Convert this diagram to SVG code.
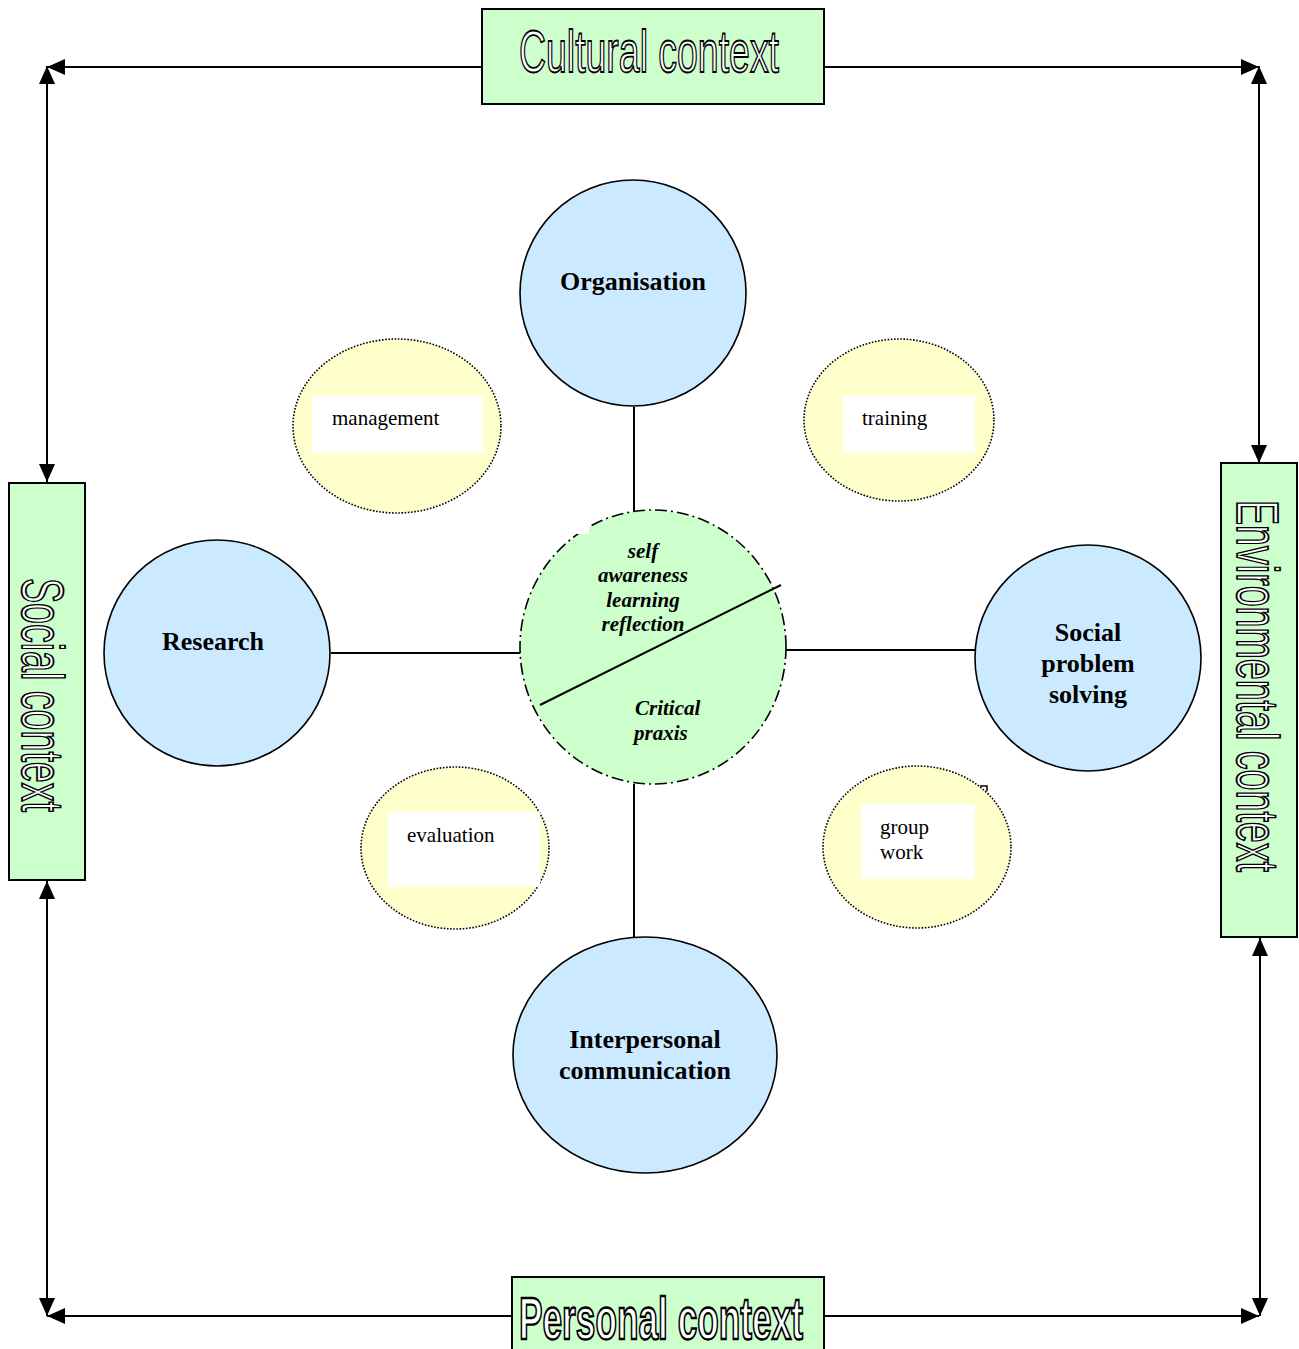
<svg xmlns="http://www.w3.org/2000/svg" width="1299" height="1349" viewBox="0 0 1299 1349">
<style>
.ctxbox{fill:#ccffcc;stroke:#000;stroke-width:2}
.ctxtxt{font-family:"Liberation Sans",Arial,sans-serif;font-size:60px;fill:#fff;stroke:#000;stroke-width:1.8}
.main{fill:#cceaff;stroke:#000;stroke-width:1.6}
.mtxt{font-family:"Liberation Serif","Times New Roman",serif;font-size:26px;font-weight:bold;fill:#000;text-anchor:middle}
.small{fill:#ffffcc;stroke:#000;stroke-width:1.6;stroke-dasharray:1.6 1.6}
.wbox{fill:#fff}
.stxt{font-family:"Liberation Serif","Times New Roman",serif;font-size:21px;fill:#000}
.ctr{fill:#ccffcc;stroke:#000;stroke-width:1.6;stroke-dasharray:12 4 2 4}
.ctxt{font-family:"Liberation Serif","Times New Roman",serif;font-size:21px;font-weight:bold;font-style:italic;fill:#000}
.ln{stroke:#000;stroke-width:2;fill:none}
.arr{stroke:#000;stroke-width:2;fill:none;marker-end:url(#ah)}
.arr2{stroke:#000;stroke-width:2;fill:none;marker-start:url(#ah);marker-end:url(#ah)}
</style>
<defs>
<marker id="ah" markerUnits="userSpaceOnUse" markerWidth="20" markerHeight="18" refX="18" refY="8" orient="auto-start-reverse">
<path d="M0,0 L18,8 L0,16 z" fill="#000"/>
</marker>
</defs>
<rect width="1299" height="1349" fill="#fff"/>

<g id="connectors">
<line class="arr" x1="482" y1="67" x2="47" y2="67"/>
<line class="arr" x1="824" y1="67" x2="1259" y2="67"/>
<line class="arr2" x1="47" y1="66" x2="47" y2="482"/>
<line class="arr2" x1="47" y1="881" x2="47" y2="1316"/>
<line class="arr2" x1="1259" y1="66" x2="1259" y2="463"/>
<line class="arr2" x1="1260" y1="938" x2="1260" y2="1316"/>
<line class="arr" x1="512" y1="1316" x2="47" y2="1316"/>
<line class="arr" x1="824" y1="1316" x2="1259" y2="1316"/>
<line class="ln" x1="634" y1="407" x2="634" y2="521"/>
<line class="ln" x1="331" y1="653" x2="521" y2="653"/>
<line class="ln" x1="786" y1="650" x2="975" y2="650"/>
<line class="ln" x1="634" y1="784" x2="634" y2="937"/>
</g>

<g id="cultural">
<rect class="ctxbox" x="482" y="9" width="342" height="95"/>
<text class="ctxtxt" x="519" y="72" textLength="260" lengthAdjust="spacingAndGlyphs">Cultural context</text>
</g>
<g id="personal">
<rect class="ctxbox" x="512" y="1277" width="312" height="80"/>
<text class="ctxtxt" x="519" y="1339" font-weight="bold" style="stroke-width:2.4" textLength="284" lengthAdjust="spacingAndGlyphs">Personal context</text>
</g>
<g id="social">
<rect class="ctxbox" x="9" y="483" width="76" height="397"/>
<text class="ctxtxt" transform="translate(22,578) rotate(90)" x="0" y="0" textLength="234" lengthAdjust="spacingAndGlyphs">Social context</text>
</g>
<g id="environmental">
<rect class="ctxbox" x="1221" y="463" width="76" height="474"/>
<text class="ctxtxt" transform="translate(1237,500) rotate(90)" x="0" y="0" textLength="372" lengthAdjust="spacingAndGlyphs">Environmental context</text>
</g>

<g id="management">
<ellipse class="small" cx="397" cy="426" rx="104" ry="87"/>
<rect class="wbox" x="312" y="396" width="171" height="57"/>
<text class="stxt" x="332" y="425">management</text>
</g>
<g id="training">
<ellipse class="small" cx="899" cy="420" rx="95" ry="81"/>
<rect class="wbox" x="843" y="396" width="132" height="57"/>
<text class="stxt" x="862" y="425">training</text>
</g>
<g id="evaluation">
<ellipse class="small" cx="455" cy="848" rx="94" ry="81"/>
<rect class="wbox" x="388" y="812" width="152" height="75"/>
<text class="stxt" x="407" y="842">evaluation</text>
</g>
<g id="groupwork">
<ellipse class="small" cx="917" cy="847" rx="94" ry="81"/>
<rect class="wbox" x="861" y="804" width="114" height="75"/>
<text class="stxt" x="880" y="834">group</text>
<text class="stxt" x="880" y="859">work</text>
<path d="M980,786 L987,786 L987,791" stroke="#000" stroke-width="1.5" fill="none"/>
</g>

<g id="organisation">
<circle class="main" cx="633" cy="293" r="113"/>
<text class="mtxt" x="633" y="290">Organisation</text>
</g>
<g id="research">
<circle class="main" cx="217" cy="653" r="113"/>
<text class="mtxt" x="213" y="650">Research</text>
</g>
<g id="socialproblem">
<circle class="main" cx="1088" cy="658" r="113"/>
<text class="mtxt" x="1088" y="641">Social</text>
<text class="mtxt" x="1088" y="672">problem</text>
<text class="mtxt" x="1088" y="703">solving</text>
</g>
<g id="interpersonal">
<ellipse class="main" cx="645" cy="1055" rx="132" ry="118"/>
<text class="mtxt" x="645" y="1048">Interpersonal</text>
<text class="mtxt" x="645" y="1079">communication</text>
</g>

<g id="centre">
<ellipse class="ctr" cx="653" cy="647" rx="133" ry="137"/>
<rect x="577" y="527" width="12" height="7" fill="#fff"/>
<line class="ln" x1="540" y1="705" x2="781" y2="585"/>
<g class="ctxt" text-anchor="middle">
<text x="643" y="558">self</text>
<text x="643" y="582">awareness</text>
<text x="643" y="607">learning</text>
<text x="643" y="631">reflection</text>
</g>
<text class="ctxt" x="635" y="715">Critical</text>
<text class="ctxt" x="634" y="740">praxis</text>
</g>
</svg>
